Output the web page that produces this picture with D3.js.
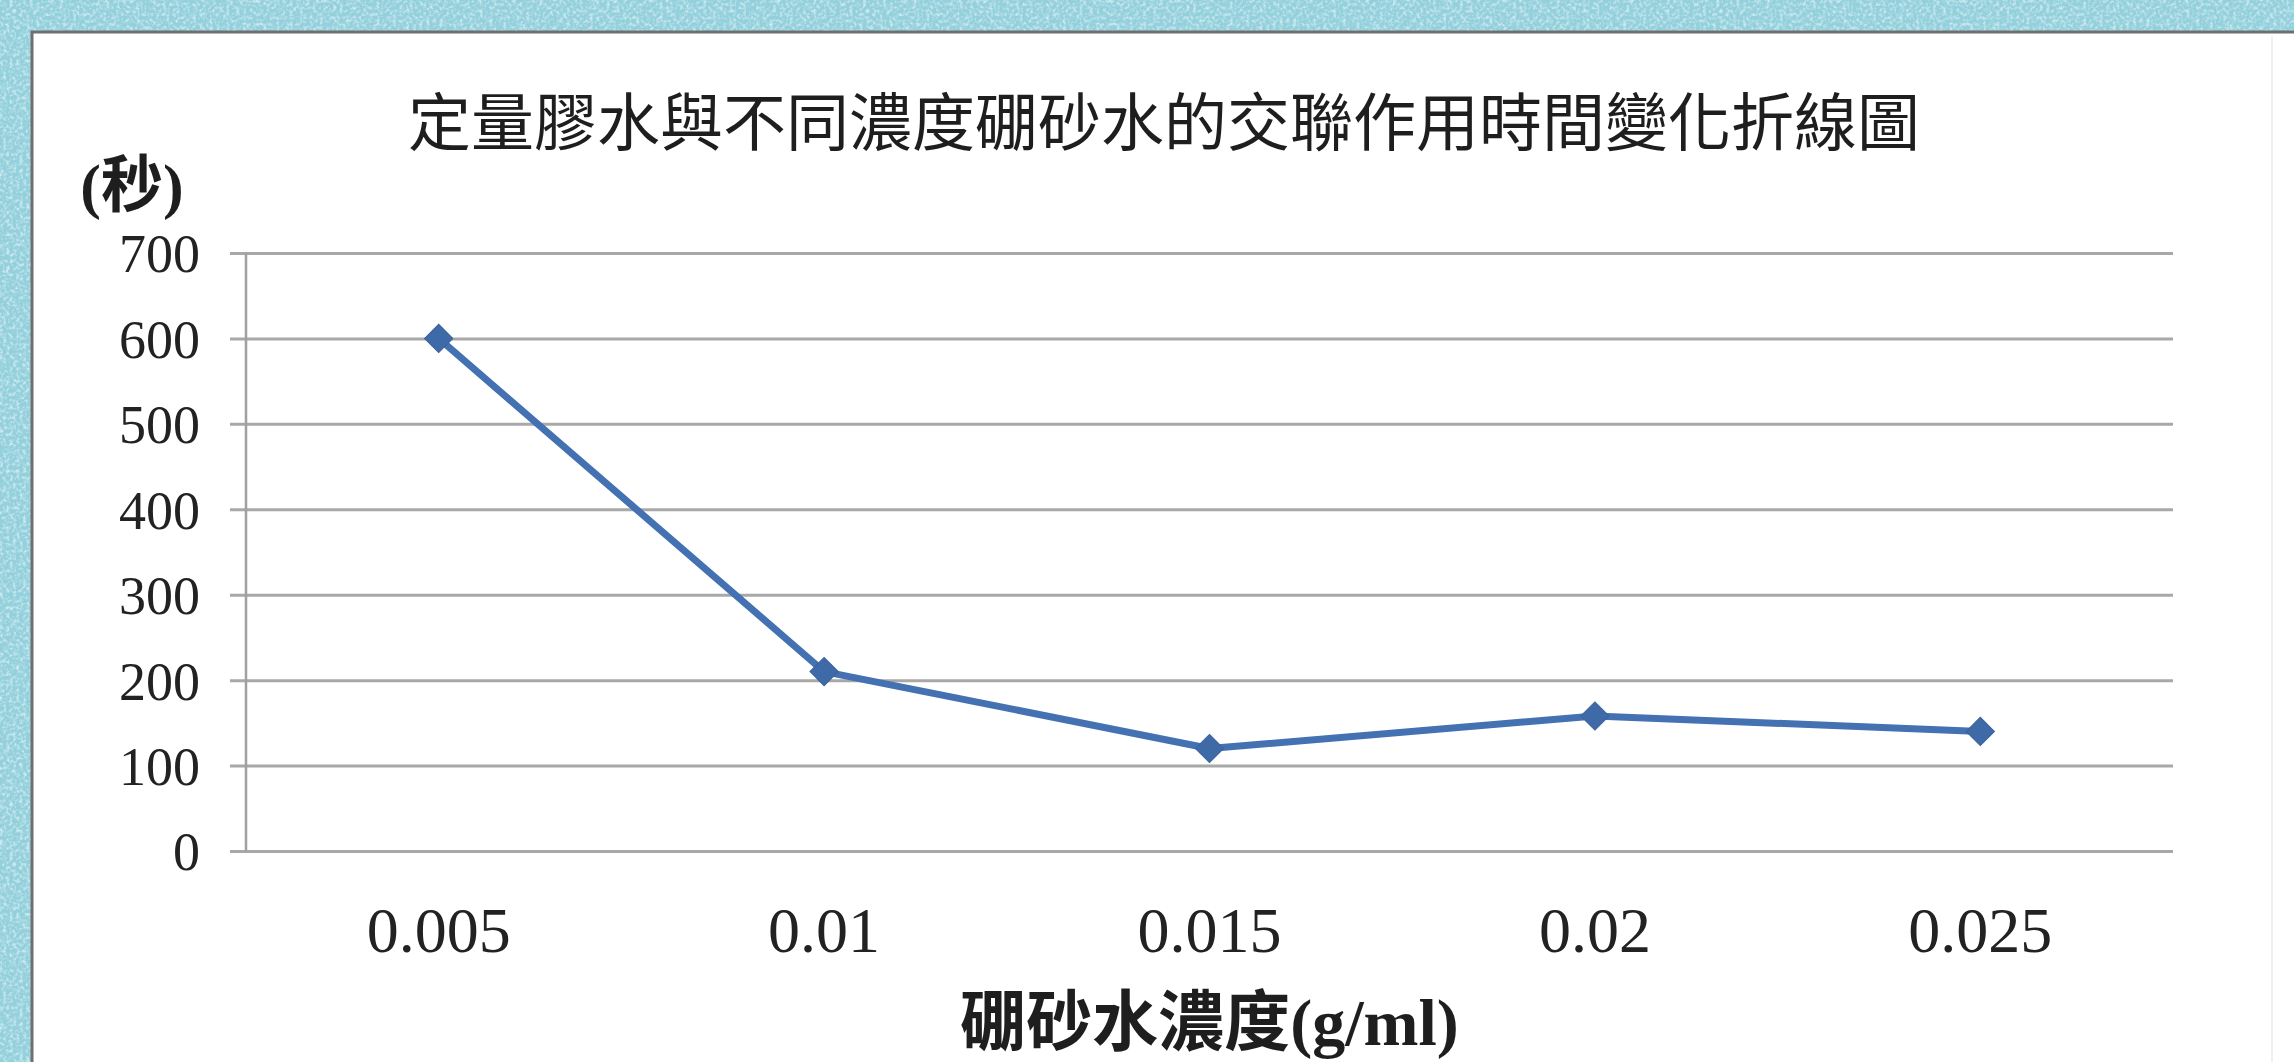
<!DOCTYPE html>
<html>
<head>
<meta charset="utf-8">
<script src="https://cdn.jsdelivr.net/npm/d3@7"></script>
<style>
  html, body { margin: 0; padding: 0; background: #a6d8e1; }
  svg { display: block; }
</style>
</head>
<body>
<svg id="chart" width="2294" height="1062"></svg>
<script>
const categories = ["0.005", "0.01", "0.015", "0.02", "0.025"];
const seconds = [600, 210, 120, 158, 140];
const yTicks = [0, 100, 200, 300, 400, 500, 600, 700];
const titleText = "定量膠水與不同濃度硼砂水的交聯作用時間變化折線圖";
const yTitleText = "(秒)";
const xTitleText = "硼砂水濃度(g/ml)";

(function () {
const W = 2294, H = 1062;
const svg = d3.select("#chart");

// textured cyan background
const defs = svg.append("defs");
const f = defs.append("filter").attr("id", "noise").attr("x", 0).attr("y", 0).attr("width", "100%").attr("height", "100%");
f.append("feTurbulence").attr("type", "fractalNoise").attr("baseFrequency", 0.3).attr("numOctaves", 2).attr("seed", 4).attr("result", "t");
f.append("feColorMatrix").attr("in", "t").attr("type", "matrix")
  .attr("values", "0 0 0 0 0.85  0 0 0 0 0.95  0 0 0 0 0.97  2.2 0 0 0 -0.95");
svg.append("rect").attr("width", W).attr("height", H).attr("fill", "#93d0dc");
svg.append("rect").attr("width", W).attr("height", H).attr("filter", "url(#noise)").attr("opacity", 0.8);

// card
svg.append("rect").attr("x", 32).attr("y", 32).attr("width", W).attr("height", H)
  .attr("fill", "#ffffff").attr("stroke", "#6f6f6f").attr("stroke-width", 3);
svg.append("line").attr("x1", 2272).attr("x2", 2272).attr("y1", 36).attr("y2", H)
  .attr("stroke", "#f0f0f0").attr("stroke-width", 2);

const pLeft = 246, pRight = 2173, pTop = 253, pBottom = 851;
const x = d3.scaleBand().domain(categories).range([pLeft, pRight]);
const y = d3.scaleLinear().domain([0, 700]).range([pBottom, pTop]);

// gridlines + y axis
const yAxis = d3.axisLeft(y).tickValues(yTicks).tickSize(-(pRight - pLeft)).tickPadding(0).tickFormat(d3.format("d"));
const gy = svg.append("g").attr("transform", `translate(${pLeft},0)`).call(yAxis);
gy.select(".domain").remove();
gy.selectAll(".tick line").attr("stroke", "#a8a8a8").attr("stroke-width", 3).attr("x1", -16);
gy.selectAll(".tick text").attr("x", -46).attr("dy", "0.35em")
  .attr("font-family", "'Liberation Serif', 'DejaVu Serif', serif").attr("font-size", 54).attr("fill", "#222");

svg.append("line").attr("x1", pLeft).attr("x2", pLeft).attr("y1", pTop).attr("y2", pBottom)
  .attr("stroke", "#a0a0a0").attr("stroke-width", 2.5);

// x axis labels
const xAxis = d3.axisBottom(x).tickSize(0).tickPadding(0);
const gx = svg.append("g").attr("transform", `translate(0,${pBottom})`).call(xAxis);
gx.select(".domain").remove();
gx.selectAll(".tick text").attr("y", 101).attr("dy", 0)
  .attr("font-family", "'Liberation Serif', 'DejaVu Serif', serif").attr("font-size", 64).attr("fill", "#222");

// line
const cx = d => x(d) + x.bandwidth() / 2;
const pts = categories.map((c, i) => [cx(c), y(seconds[i])]);
svg.append("path").datum(pts)
  .attr("d", d3.line())
  .attr("fill", "none").attr("stroke", "#4471b2").attr("stroke-width", 7).attr("stroke-linejoin", "round");

svg.selectAll(".mk").data(pts).enter().append("path")
  .attr("transform", d => `translate(${d[0]},${d[1]}) rotate(45)`)
  .attr("d", d3.symbol().type(d3.symbolSquare).size(400))
  .attr("fill", "#3f6aa8").attr("stroke", "#3a629c").attr("stroke-width", 1);

// titles
svg.append("text").attr("x", 1164).attr("y", 117).attr("text-anchor", "middle").attr("dominant-baseline", "central")
  .attr("font-family", "'Noto Sans CJK TC', 'Noto Sans CJK SC', sans-serif").attr("font-size", 63).attr("fill", "#1e1e1e")
  .text(titleText);
svg.append("text").attr("x", 132).attr("y", 186).attr("text-anchor", "middle").attr("dominant-baseline", "central")
  .attr("font-family", "'Liberation Serif', 'Noto Sans CJK TC', serif").attr("font-weight", "bold").attr("font-size", 62).attr("fill", "#1e1e1e")
  .text(yTitleText);
svg.append("text").attr("x", (pLeft + pRight) / 2).attr("y", 1022).attr("text-anchor", "middle").attr("dominant-baseline", "central")
  .attr("font-family", "'Liberation Serif', 'Noto Sans CJK TC', serif").attr("font-weight", "bold").attr("font-size", 66).attr("fill", "#1e1e1e")
  .text(xTitleText);
})();
</script>
</body>
</html>
